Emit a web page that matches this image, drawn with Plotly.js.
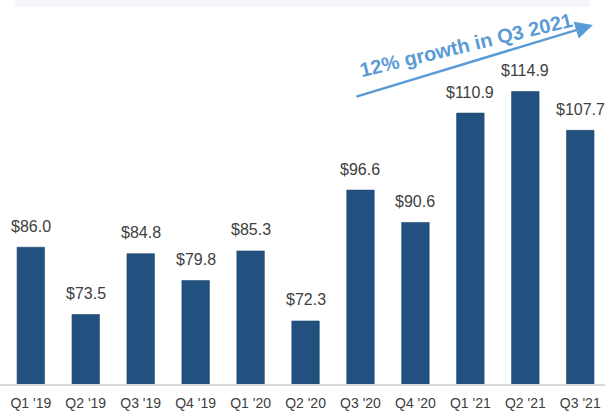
<!DOCTYPE html>
<html>
<head>
<meta charset="utf-8">
<script src="https://cdn.plot.ly/plotly-3.0.1.min.js"></script>
<style>html,body{margin:0;padding:0;background:#fff;}#chart{width:605px;height:417px;}</style>
</head>
<body>
<div id="chart"></div>
<script>
const quarters = ["Q1 '19","Q2 '19","Q3 '19","Q4 '19","Q1 '20","Q2 '20","Q3 '20","Q4 '20","Q1 '21","Q2 '21","Q3 '21"];
const revenue = [86.0, 73.5, 84.8, 79.8, 85.3, 72.3, 96.6, 90.6, 110.9, 114.9, 107.7];
const valueLabels = revenue.map(v => '$' + v.toFixed(1));
const growthNote = "12% growth in Q3 2021";

const barColor = '#22507f';
const textColor = '#404040';
const arrowColor = '#5b9bd5';

const trace = {
  type: 'bar',
  x: quarters,
  y: revenue,
  width: 0.5,
  marker: {color: barColor, line: {color: '#1d4670', width: 0.6}},
  hoverinfo: 'skip',
  base: 0
};

const labelAnns = quarters.map((q, i) => ({
  x: q, y: revenue[i], xref: 'x', yref: 'y',
  text: valueLabels[i], showarrow: false,
  yshift: 21,
  font: {family: 'Liberation Sans, Arial, sans-serif', size: 16, color: textColor}
}));

const annotations = labelAnns.concat([
  {
    x: 10.23, y: 127.25, xref: 'x', yref: 'y',
    ax: -238, ay: 72, axref: 'pixel', ayref: 'pixel',
    showarrow: true, arrowhead: 2, arrowsize: 1.4, arrowwidth: 2.5,
    arrowcolor: arrowColor, text: ''
  },
  {
    x: 7.92, y: 123.6, xref: 'x', yref: 'y',
    text: growthNote, showarrow: false, textangle: -13.5,
    font: {family: 'Liberation Sans, Arial, sans-serif', size: 20, color: arrowColor, weight: 'bold'}
  }
]);

const layout = {
  width: 605, height: 417,
  margin: {l: 0, r: 0, t: 0, b: 33, pad: 0},
  paper_bgcolor: '#ffffff',
  plot_bgcolor: '#ffffff',
  showlegend: false,
  bargap: 0.5,
  xaxis: {
    type: 'category',
    range: [-0.5605, 10.45],
    showgrid: false, zeroline: false,
    showline: true, linecolor: '#d9d9d9', linewidth: 1.5,
    ticks: '', ticklabelstandoff: 6,
    tickfont: {family: 'Liberation Sans, Arial, sans-serif', size: 14, color: textColor},
    fixedrange: true
  },
  yaxis: {
    range: [60.6, 131.9],
    visible: false, showgrid: false, zeroline: false, fixedrange: true
  },
  shapes: [{
    type: 'rect', xref: 'paper', yref: 'paper',
    x0: 0.025, x1: 0.975, y0: 0.982, y1: 1,
    line: {width: 0}, fillcolor: '#f4f6f9', layer: 'below'
  }],
  annotations: annotations
};

Plotly.newPlot('chart', [trace], layout, {displayModeBar: false, staticPlot: true});
</script>
</body>
</html>
